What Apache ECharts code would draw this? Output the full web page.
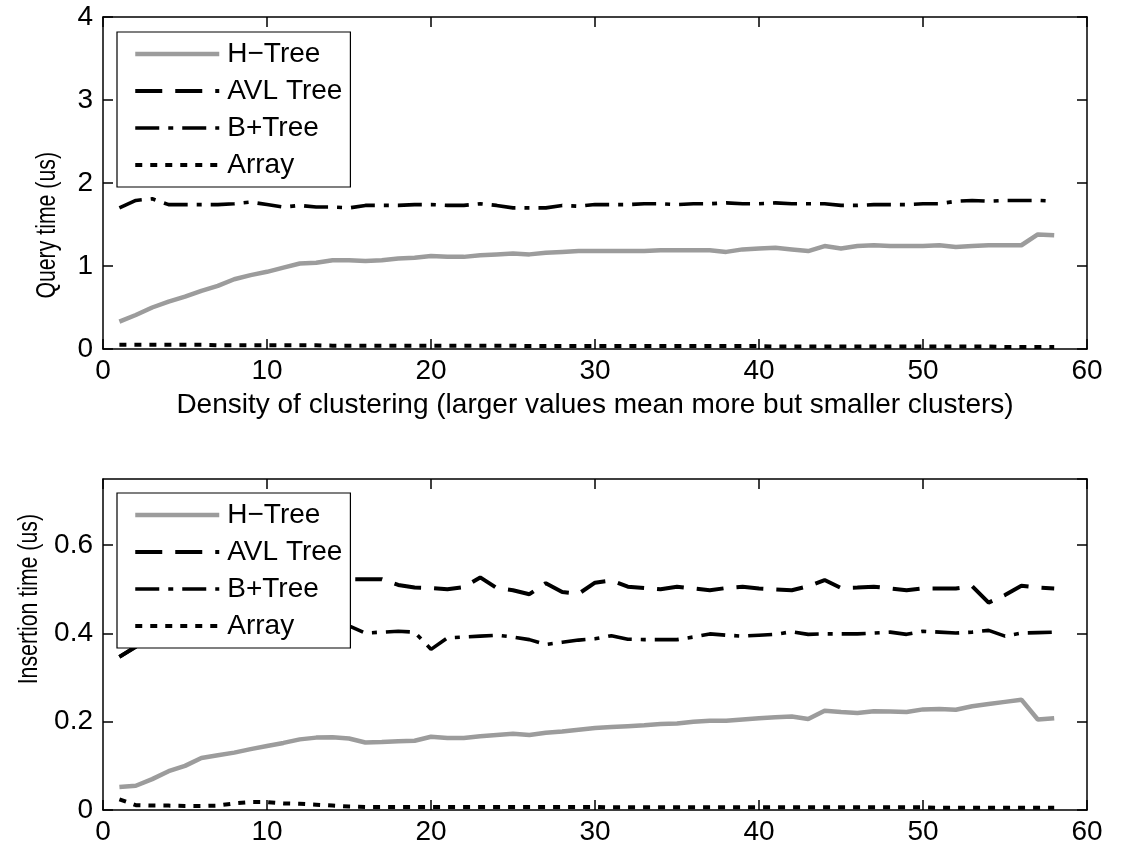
<!DOCTYPE html>
<html>
<head>
<meta charset="utf-8">
<script src="https://cdn.jsdelivr.net/npm/echarts@6/dist/echarts.min.js"></script>
<style>
  html, body { margin: 0; padding: 0; background: #fff; }
  #chart { width: 1125px; height: 850px; }
</style>
</head>
<body>
<div id="chart"></div>
<script>
// Density of clustering (x positions of every sample)
const density = [1,2,3,4,5,6,7,8,9,10,11,12,13,14,15,16,17,18,19,20,
  21,22,23,24,25,26,27,28,29,30,31,32,33,34,35,36,37,38,39,40,
  41,42,43,44,45,46,47,48,49,50,51,52,53,54,55,56,57,58];

const seriesNames = ['H\u2212Tree', 'AVL Tree', 'B+Tree', 'Array'];

// Query time (us)
const hTreeQuery = [0.33,0.41,0.50,0.57,0.63,0.70,0.76,0.84,0.89,0.93,
  0.98,1.03,1.04,1.07,1.07,1.06,1.07,1.09,1.10,1.12,
  1.11,1.11,1.13,1.14,1.15,1.14,1.16,1.17,1.18,1.18,
  1.18,1.18,1.18,1.19,1.19,1.19,1.19,1.17,1.20,1.21,
  1.22,1.20,1.18,1.24,1.21,1.24,1.25,1.24,1.24,1.24,
  1.25,1.23,1.24,1.25,1.25,1.25,1.38,1.37];
// AVL query times lie under the B+Tree curve, so no separate trace shows
const avlQuery = [];
const bPlusQuery = [1.70,1.79,1.81,1.74,1.74,1.74,1.74,1.75,1.77,1.74,
  1.71,1.73,1.71,1.71,1.70,1.73,1.73,1.73,1.74,1.74,
  1.73,1.73,1.75,1.73,1.70,1.70,1.70,1.73,1.72,1.74,
  1.74,1.74,1.75,1.75,1.74,1.75,1.75,1.76,1.75,1.75,
  1.76,1.75,1.75,1.75,1.73,1.73,1.74,1.74,1.74,1.75,
  1.75,1.78,1.79,1.78,1.79,1.79,1.79,1.78];
const arrayQuery = [0.05,0.05,0.05,0.05,0.05,0.05,0.045,0.045,0.045,0.045,
  0.045,0.045,0.045,0.04,0.04,0.04,0.04,0.04,0.04,0.04,
  0.04,0.04,0.04,0.04,0.04,0.035,0.035,0.035,0.035,0.035,
  0.035,0.035,0.035,0.035,0.035,0.035,0.035,0.035,0.035,0.035,
  0.03,0.03,0.03,0.03,0.03,0.03,0.03,0.03,0.03,0.03,
  0.03,0.03,0.03,0.03,0.025,0.025,0.025,0.025];

// Insertion time (us)
const hTreeInsert = [0.052,0.055,0.070,0.088,0.100,0.118,0.124,0.130,0.138,0.145,
  0.152,0.160,0.164,0.165,0.162,0.153,0.154,0.156,0.157,0.166,
  0.163,0.163,0.167,0.170,0.173,0.170,0.175,0.178,0.182,0.186,
  0.188,0.190,0.192,0.195,0.196,0.200,0.202,0.202,0.205,0.208,
  0.210,0.212,0.206,0.225,0.222,0.220,0.224,0.223,0.222,0.228,
  0.229,0.227,0.235,0.240,0.245,0.250,0.205,0.208];
const avlInsert = [0.347,0.370,0.470,0.500,0.510,0.500,0.510,0.520,0.510,0.500,
  0.510,0.520,0.510,0.520,0.523,0.523,0.523,0.510,0.504,0.503,
  0.500,0.505,0.527,0.503,0.498,0.489,0.514,0.494,0.490,0.515,
  0.520,0.506,0.503,0.500,0.506,0.502,0.498,0.503,0.506,0.502,
  0.500,0.498,0.507,0.521,0.503,0.504,0.506,0.502,0.498,0.502,
  0.502,0.502,0.507,0.470,0.487,0.508,0.504,0.502];
const bPlusInsert = [0.347,0.370,0.410,0.420,0.420,0.420,0.410,0.420,0.420,0.410,
  0.420,0.420,0.420,0.425,0.417,0.401,0.403,0.405,0.403,0.364,
  0.390,0.392,0.394,0.396,0.392,0.386,0.375,0.380,0.385,0.388,
  0.395,0.387,0.386,0.386,0.386,0.392,0.399,0.396,0.394,0.396,
  0.398,0.404,0.398,0.399,0.399,0.399,0.401,0.403,0.398,0.405,
  0.403,0.401,0.403,0.407,0.394,0.401,0.402,0.403];
const arrayInsert = [0.024,0.011,0.010,0.010,0.009,0.009,0.010,0.015,0.018,0.018,
  0.015,0.014,0.012,0.010,0.008,0.007,0.007,0.007,0.007,0.007,
  0.007,0.007,0.007,0.007,0.007,0.007,0.007,0.007,0.007,0.007,
  0.006,0.006,0.006,0.006,0.006,0.006,0.006,0.006,0.006,0.006,
  0.006,0.006,0.006,0.006,0.006,0.006,0.006,0.006,0.006,0.006,
  0.005,0.005,0.005,0.005,0.005,0.005,0.005,0.005];

// Axis ranges and tick steps
const xRange = [0, 60], xStep = 10;
const queryRange = [0, 4], queryStep = 1;
const insertRange = [0, 0.75], insertStep = 0.2;

const FONT = "'Liberation Sans', Arial, Helvetica, sans-serif";

const pairs = arr => arr.map((v, i) => [density[i], v]);

const lineStyles = [
  { color: '#9c9c9c', width: 4.5, type: 'solid' },
  { color: '#000', width: 4, type: [27, 13] },
  { color: '#000', width: 3.6, type: [24, 9, 5, 9] },
  { color: '#000', width: 4, type: [7, 8] }
];

function makeSeries(gridIdx, arrays) {
  return arrays.map((arr, k) => ({
    type: 'line',
    name: seriesNames[k],
    xAxisIndex: gridIdx * 2,
    yAxisIndex: gridIdx * 2,
    data: pairs(arr),
    showSymbol: false,
    symbol: 'circle',
    symbolSize: 0,
    lineStyle: lineStyles[k],
    itemStyle: { color: lineStyles[k].color },
    emphasis: { disabled: true },
    animation: false,
    z: 2
  }));
}

const frameLine = () => ({ show: true, onZero: false, lineStyle: { color: '#000', width: 1.5 } });
const innerTick = () => ({ show: true, inside: true, length: 10, lineStyle: { color: '#000', width: 1.5 } });
const labelStyle = () => ({ color: '#000', fontSize: 28, fontFamily: FONT });

function xAxes(gridIdx, title) {
  return [
    {
      type: 'value', gridIndex: gridIdx, position: 'bottom',
      min: xRange[0], max: xRange[1], interval: xStep,
      axisLine: frameLine(), axisTick: innerTick(), splitLine: { show: false },
      axisLabel: Object.assign({ margin: 8 }, labelStyle()),
      name: title, nameLocation: 'middle', nameGap: 42,
      nameTextStyle: { color: '#000', fontSize: 28, fontFamily: FONT }
    },
    {
      type: 'value', gridIndex: gridIdx, position: 'top',
      min: xRange[0], max: xRange[1], interval: xStep,
      axisLine: frameLine(), axisTick: innerTick(), splitLine: { show: false },
      axisLabel: { show: false }
    }
  ];
}

function yAxes(gridIdx, range, step) {
  return [
    {
      type: 'value', gridIndex: gridIdx, position: 'left',
      min: range[0], max: range[1], interval: step,
      axisLine: frameLine(), axisTick: innerTick(), splitLine: { show: false },
      axisLabel: Object.assign({ margin: 10, showMaxLabel: range[1] % step === 0 }, labelStyle())
    },
    {
      type: 'value', gridIndex: gridIdx, position: 'right',
      min: range[0], max: range[1], interval: step,
      axisLine: frameLine(), axisTick: innerTick(), splitLine: { show: false },
      axisLabel: { show: false }
    }
  ];
}

function legendAt(top) {
  return {
    orient: 'vertical', left: 117, top: top, z: 10,
    data: seriesNames,
    itemWidth: 84, itemHeight: 14, itemGap: 9,
    padding: [8, 8, 8, 16],
    backgroundColor: '#fff', borderColor: '#000', borderWidth: 1.2,
    borderRadius: 0,
    selectedMode: false,
    itemStyle: { color: 'rgba(0,0,0,0)', borderWidth: 0 },
    lineStyle: { width: 'inherit' },
    textStyle: { color: '#000', fontSize: 28, fontFamily: FONT, padding: [0, 0, 0, 3] }
  };
}

// Rotated y-axis titles, set in a narrow face
function yTitle(text, left, top) {
  return {
    type: 'text', left: left, top: top, z: 10,
    rotation: Math.PI / 2,
    scaleX: 0.76,
    style: { text: text, fill: '#000', fontSize: 28, fontFamily: FONT,
             textAlign: 'center', textVerticalAlign: 'middle' }
  };
}

const chart = echarts.init(document.getElementById('chart'), null, { renderer: 'canvas' });
chart.setOption({
  backgroundColor: '#fff',
  animation: false,
  grid: [
    { left: 103, top: 17, width: 984, height: 332 },
    { left: 103, top: 479, width: 984, height: 331 }
  ],
  xAxis: [].concat(
    xAxes(0, 'Density of clustering (larger values mean more but smaller clusters)'),
    xAxes(1, '')
  ),
  yAxis: [].concat(
    yAxes(0, queryRange, queryStep),
    yAxes(1, insertRange, insertStep)
  ),
  legend: [legendAt(32), legendAt(493)],
  graphic: [
    yTitle('Query time (us)', 33, 152),
    yTitle('Insertion time (us)', 15, 514)
  ],
  series: [].concat(
    makeSeries(0, [hTreeQuery, avlQuery, bPlusQuery, arrayQuery]),
    makeSeries(1, [hTreeInsert, avlInsert, bPlusInsert, arrayInsert])
  )
});
</script>
</body>
</html>
